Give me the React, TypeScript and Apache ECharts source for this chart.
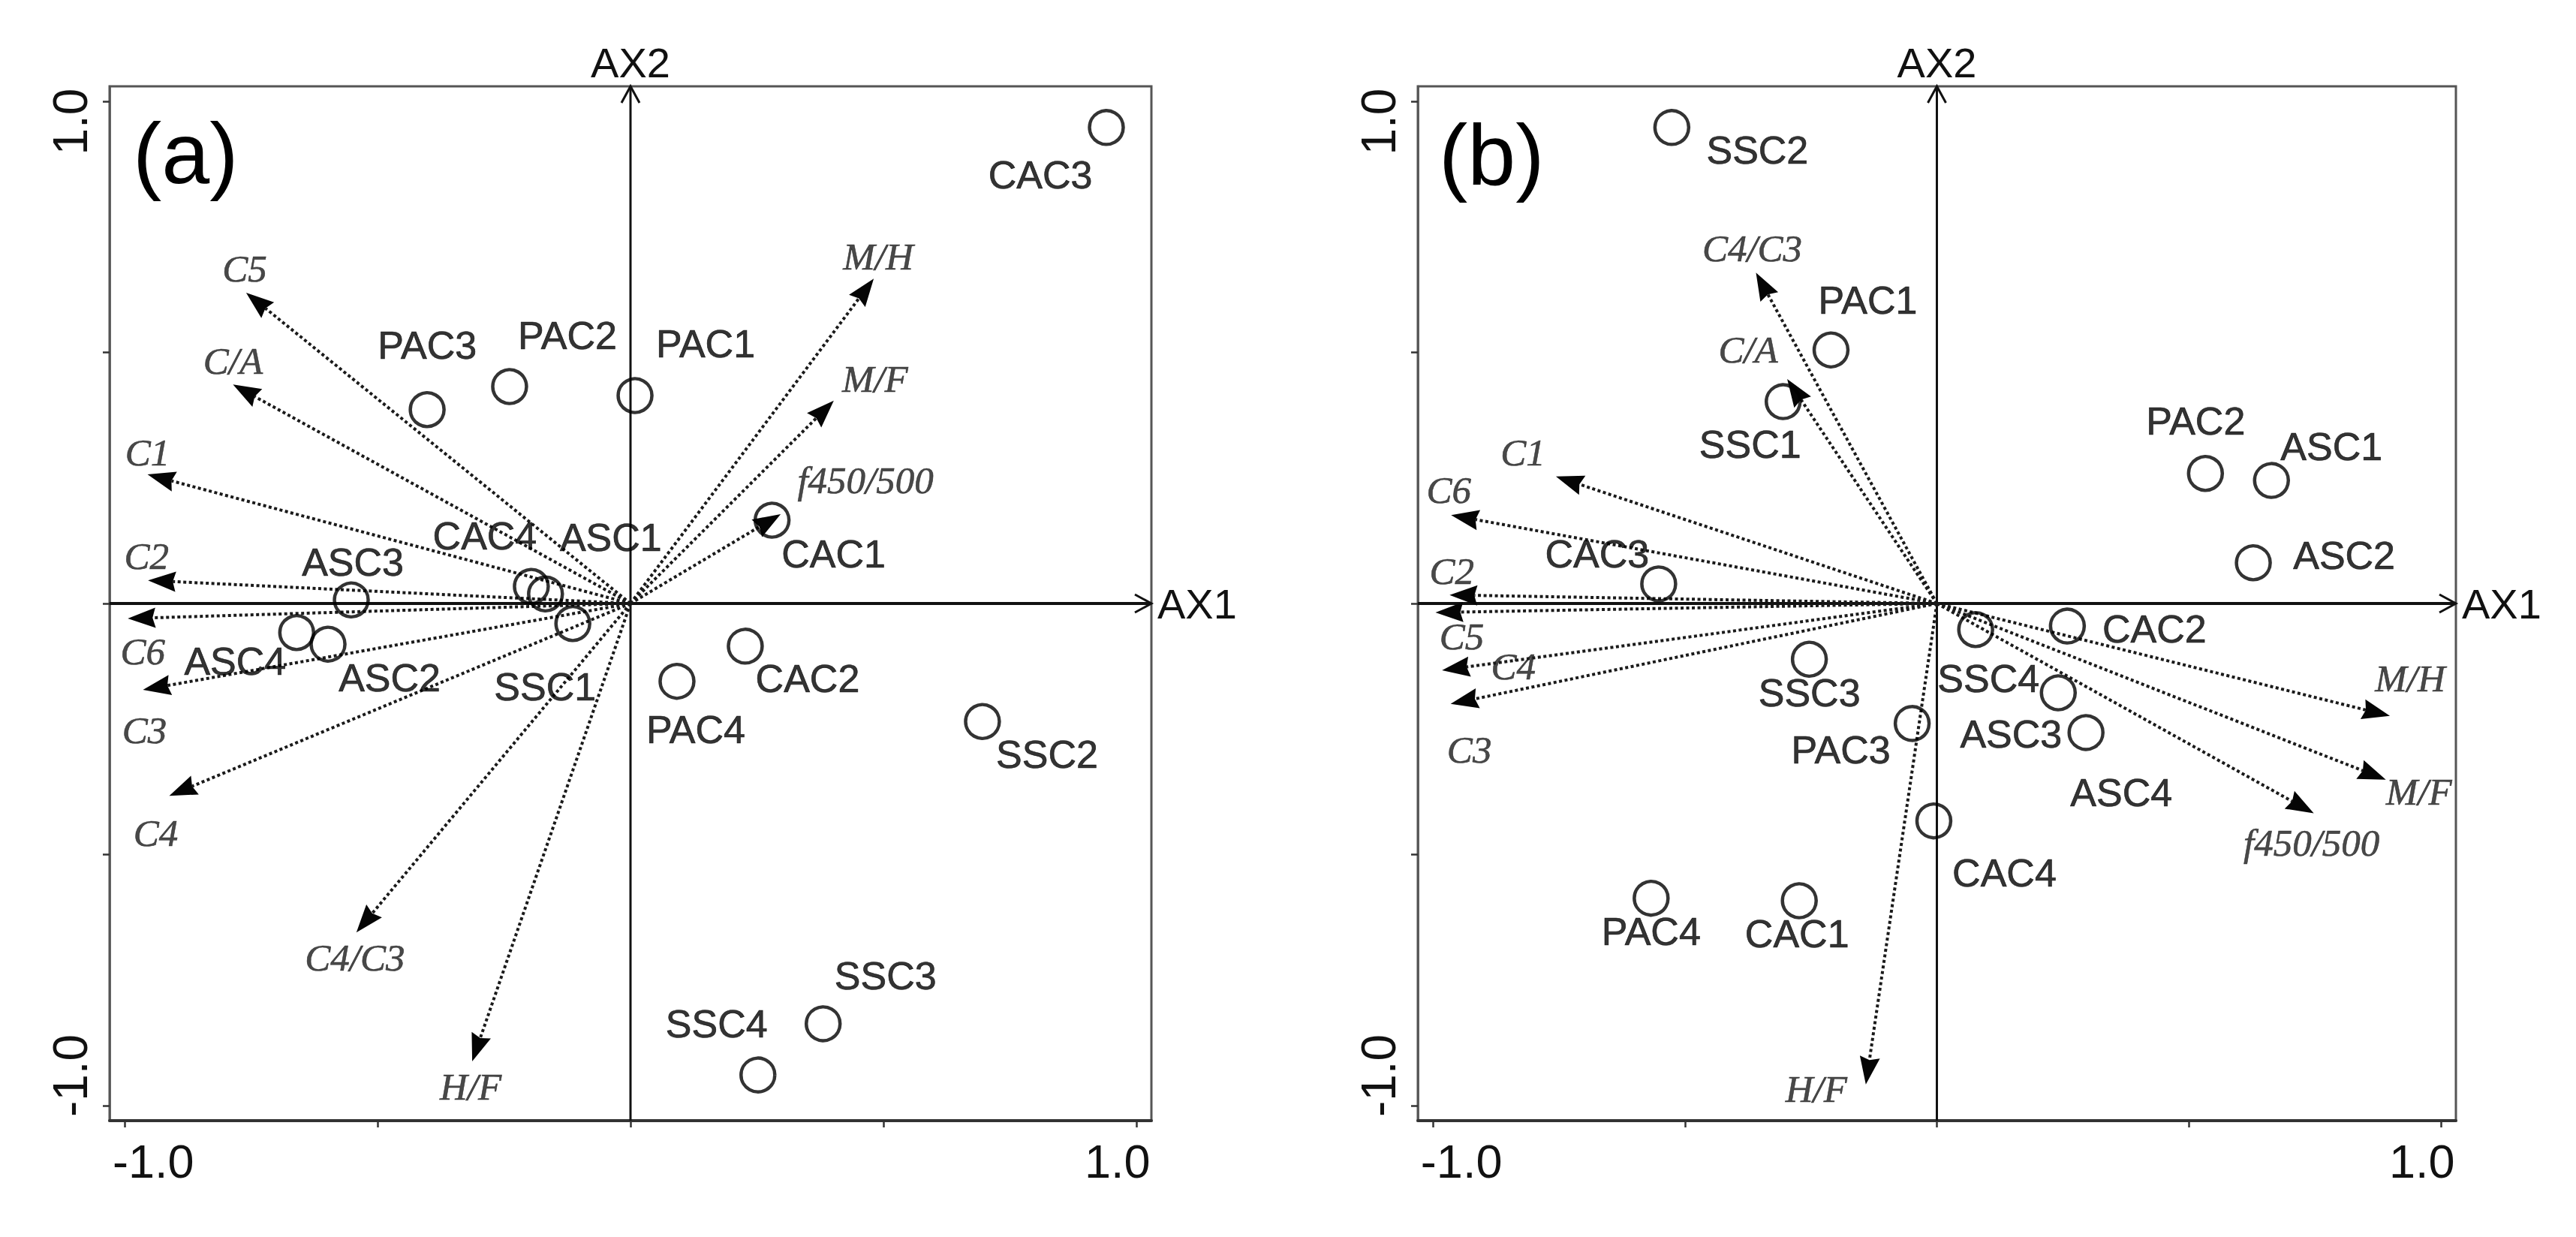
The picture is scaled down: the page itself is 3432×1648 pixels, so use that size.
import React, { useEffect, useRef } from "react";
import * as echarts from "echarts";

// ---------- data ----------
const RANGE = 1.03;
const TICKS = [-1, -0.5, 0, 0.5, 1];
const TICK_LABELS = [-1, 1];

// Panel (a): sample scores
const sampleNamesA = ["CAC3", "PAC3", "PAC2", "PAC1", "CAC4", "ASC1", "ASC3", "CAC1", "SSC1", "ASC4", "ASC2", "CAC2", "PAC4", "SSC2", "SSC3", "SSC4"];
const sampleAX1A = [0.941, -0.402, -0.239, 0.009, -0.196, -0.168, -0.552, 0.28, -0.114, -0.66, -0.598, 0.227, 0.092, 0.696, 0.381, 0.252];
const sampleAX2A = [0.948, 0.386, 0.432, 0.414, 0.034, 0.019, 0.007, 0.166, -0.04, -0.058, -0.081, -0.085, -0.155, -0.235, -0.837, -0.939];

// Panel (a): variable vectors
const varNamesA = ["C5", "C/A", "C1", "C2", "C6", "C3", "C4", "C4/C3", "H/F", "M/H", "M/F", "f450/500"];
const varAX1A = [-0.76, -0.786, -0.955, -0.954, -0.994, -0.964, -0.912, -0.542, -0.313, 0.481, 0.402, 0.297];
const varAX2A = [0.619, 0.436, 0.257, 0.046, -0.03, -0.172, -0.383, -0.655, -0.912, 0.647, 0.404, 0.178];

// Panel (b): sample scores
const sampleNamesB = ["SSC2", "PAC1", "SSC1", "PAC2", "ASC1", "ASC2", "CAC3", "CAC2", "SSC4", "SSC3", "ASC3", "ASC4", "PAC3", "CAC4", "PAC4", "CAC1"];
const sampleAX1B = [-0.526, -0.21, -0.305, 0.533, 0.664, 0.628, -0.552, 0.259, 0.077, -0.253, 0.241, 0.296, -0.049, -0.006, -0.567, -0.273];
const sampleAX2B = [0.948, 0.505, 0.402, 0.259, 0.245, 0.081, 0.039, -0.045, -0.052, -0.111, -0.178, -0.257, -0.239, -0.433, -0.587, -0.592];

// Panel (b): variable vectors
const varNamesB = ["C4/C3", "C/A", "C1", "C6", "C2", "C5", "C4", "C3", "M/H", "M/F", "f450/500", "H/F"];
const varAX1B = [-0.359, -0.297, -0.756, -0.964, -0.967, -0.995, -0.982, -0.965, 0.899, 0.891, 0.748, -0.141];
const varAX2B = [0.659, 0.447, 0.253, 0.176, 0.017, -0.018, -0.133, -0.2, -0.224, -0.351, -0.418, -0.958];

// ---------- layout (label offsets in px, relative to the mark) ----------
const sampleLabelOffsetA: Record<string, number[]> = {
  CAC3: [-88, 63], PAC3: [0, -86], PAC2: [77, -68], PAC1: [94, -69], CAC4: [-62, -67], ASC1: [87, -75],
  ASC3: [2, -50], CAC1: [82, 45], SSC1: [-37, 84], ASC4: [-82, 38], ASC2: [82, 45], CAC2: [83, 43],
  PAC4: [25, 64], SSC2: [86, 44], SSC3: [83, -64], SSC4: [-55, -68],
};
const sampleLabelOffsetB: Record<string, number[]> = {
  SSC2: [114, 30], PAC1: [49, -66], SSC1: [-44, 57], PAC2: [-13, -70], ASC1: [80, -45], ASC2: [121, -10],
  CAC3: [-82, -40], CAC2: [116, 4], SSC4: [17, 65], SSC3: [0, 45], ASC3: [-63, 55], ASC4: [47, 80],
  PAC3: [-95, 35], CAC4: [94, 69], PAC4: [0, 44], CAC1: [-3, 44],
};
const varLabelOffsetA: Record<string, number[]> = {
  "C5": [-2, -32], "C/A": [0, -31], "C1": [0, -29], "C2": [-2, -32], "C6": [20, 44], "C3": [2, 54],
  "C4": [-18, 50], "C4/C3": [-2, 34], "H/F": [-2, 34], "M/H": [6, -29], "M/F": [55, -29], "f450/500": [113, -45],
};
const varLabelOffsetB: Record<string, number[]> = {
  "C4/C3": [-5, -32], "C/A": [-52, -39], "C1": [-44, -32], "C6": [-3, -33], "C2": [3, -32], "C5": [35, 32],
  "C4": [95, -5], "C3": [25, 61], "M/H": [27, -50], "M/F": [44, 16], "f450/500": [-3, 39], "H/F": [-66, 6],
};

const SANS = "Liberation Sans, Arial, sans-serif";
const SERIF = "Liberation Serif, Times New Roman, serif";

function xAxisFor(gridIndex: number) {
  return {
    type: "value",
    gridIndex,
    min: -RANGE,
    max: RANGE,
    splitLine: { show: false },
    axisLine: { show: true, onZero: false, lineStyle: { color: "#333", width: 4 } },
    axisTick: { show: true, inside: false, length: 9, customValues: TICKS, lineStyle: { color: "#333", width: 2.5 } },
    axisLabel: {
      show: true,
      customValues: TICK_LABELS,
      margin: 22,
      formatter: (v: number) => (v < 0 ? `{l|${v.toFixed(1)}}` : `{r|${v.toFixed(1)}}`),
      rich: {
        l: { fontFamily: SANS, fontSize: 63, color: "#111", padding: [0, 0, 0, 76] },
        r: { fontFamily: SANS, fontSize: 63, color: "#111", padding: [0, 50, 0, 0] },
      },
    },
  };
}

function yAxisFor(gridIndex: number) {
  return {
    type: "value",
    gridIndex,
    min: -RANGE,
    max: RANGE,
    splitLine: { show: false },
    axisLine: { show: true, onZero: false, lineStyle: { color: "#555", width: 2.5 } },
    axisTick: { show: true, inside: false, length: 9, customValues: TICKS, lineStyle: { color: "#333", width: 2.5 } },
    axisLabel: {
      show: true,
      customValues: TICK_LABELS,
      rotate: 90,
      margin: 20,
      formatter: (v: number) => (v < 0 ? `{l|${v.toFixed(1)}}` : `{r|${v.toFixed(1)}}`),
      rich: {
        l: { fontFamily: SANS, fontSize: 64, color: "#111", padding: [0, 0, 0, 80] },
        r: { fontFamily: SANS, fontSize: 64, color: "#111", padding: [0, 54, 0, 0] },
      },
    },
  };
}

function axesSeries(idx: number) {
  return {
    type: "custom",
    xAxisIndex: idx,
    yAxisIndex: idx,
    z: 1,
    silent: true,
    clip: false,
    data: [[0, 0]],
    renderItem: (_p: any, api: any) => {
      const l = api.coord([-RANGE, 0]);
      const r = api.coord([RANGE, 0]);
      const b = api.coord([0, -RANGE]);
      const t = api.coord([0, RANGE]);
      const ah = 22;
      const aw = 12;
      return {
        type: "group",
        children: [
          { type: "line", shape: { x1: l[0], y1: l[1], x2: r[0], y2: r[1] }, style: { stroke: "#111", lineWidth: 4 } },
          { type: "polyline", shape: { points: [[r[0] - ah, r[1] - aw], [r[0], r[1]], [r[0] - ah, r[1] + aw]] }, style: { stroke: "#111", fill: null, lineWidth: 3 } },
          { type: "line", shape: { x1: b[0], y1: b[1], x2: t[0], y2: t[1] }, style: { stroke: "#111", lineWidth: 3 } },
          { type: "polyline", shape: { points: [[t[0] - aw, t[1] + ah], [t[0], t[1]], [t[0] + aw, t[1] + ah]] }, style: { stroke: "#111", fill: null, lineWidth: 3 } },
          {
            type: "text", x: r[0] + 8, y: r[1],
            style: { text: "AX1", fill: "#111", fontSize: 56, fontFamily: SANS, align: "left", verticalAlign: "middle", textAlign: "left", textVerticalAlign: "middle" },
          },
          {
            type: "text", x: t[0], y: t[1] - 4,
            style: { text: "AX2", fill: "#111", fontSize: 56, fontFamily: SANS, align: "center", verticalAlign: "bottom", textAlign: "center", textVerticalAlign: "bottom" },
          },
        ],
      };
    },
  };
}

function arrowSeries(idx: number, xs: number[], ys: number[]) {
  return {
    type: "custom",
    xAxisIndex: idx,
    yAxisIndex: idx,
    z: 2,
    silent: true,
    clip: false,
    data: xs.map((x, i) => [x, ys[i]]),
    renderItem: (_p: any, api: any) => {
      const tip = api.coord([api.value(0), api.value(1)]);
      const o = api.coord([0, 0]);
      const dx = tip[0] - o[0];
      const dy = tip[1] - o[1];
      const L = Math.hypot(dx, dy) || 1;
      const ux = dx / L;
      const uy = dy / L;
      const hl = 37;
      const hw = 13.5;
      const bx = tip[0] - ux * hl;
      const by = tip[1] - uy * hl;
      return {
        type: "group",
        children: [
          {
            type: "line",
            shape: { x1: o[0], y1: o[1], x2: bx + ux * 4, y2: by + uy * 4 },
            style: { stroke: "#1a1a1a", lineWidth: 4, lineDash: [4, 3.5] },
          },
          {
            type: "polygon",
            shape: { points: [[tip[0], tip[1]], [bx - uy * hw, by + ux * hw], [bx + ux * 4, by + uy * 4], [bx + uy * hw, by - ux * hw]] },
            style: { fill: "#050505", stroke: null },
          },
        ],
      };
    },
  };
}

function varLabelSeries(idx: number, names: string[], xs: number[], ys: number[], offs: Record<string, number[]>) {
  return {
    type: "scatter",
    xAxisIndex: idx,
    yAxisIndex: idx,
    z: 4,
    silent: true,
    symbol: "circle",
    symbolSize: 1,
    itemStyle: { color: "rgba(0,0,0,0)" },
    data: names.map((n, i) => ({ name: n, value: [xs[i], ys[i]], label: { offset: offs[n] || [0, 0] } })),
    label: {
      show: true,
      position: "inside",
      formatter: "{b}",
      fontFamily: SERIF,
      fontStyle: "italic",
      fontSize: 51,
      color: "#1a1a1a",
      textBorderColor: "#1a1a1a",
      textBorderWidth: 0.6,
    },
  };
}

function sampleSeries(idx: number, names: string[], xs: number[], ys: number[], offs: Record<string, number[]>) {
  return {
    type: "scatter",
    xAxisIndex: idx,
    yAxisIndex: idx,
    z: 3,
    silent: true,
    symbol: "circle",
    symbolSize: 45,
    itemStyle: { color: "rgba(0,0,0,0)", borderColor: "#000", borderWidth: 4.5 },
    data: names.map((n, i) => ({ name: n, value: [xs[i], ys[i]], label: { offset: offs[n] || [0, 0] } })),
    label: {
      show: true,
      position: "inside",
      formatter: "{b}",
      fontFamily: SANS,
      fontSize: 52,
      color: "#000",
      textBorderColor: "#000",
      textBorderWidth: 0.7,
    },
  };
}

const option: any = {
  animation: false,
  backgroundColor: "#fff",
  title: [
    { text: "(a)", left: 177, top: 146, padding: 0, textStyle: { fontFamily: SANS, fontSize: 115, fontWeight: "normal", color: "#000" } },
    { text: "(b)", left: 1917, top: 148, padding: 0, textStyle: { fontFamily: SANS, fontSize: 115, fontWeight: "normal", color: "#000" } },
  ],
  grid: [
    { left: 146, top: 115, width: 1388, height: 1378, show: true, borderColor: "#555", borderWidth: 3, backgroundColor: "transparent" },
    { left: 1889, top: 115, width: 1383, height: 1378, show: true, borderColor: "#555", borderWidth: 3, backgroundColor: "transparent" },
  ],
  xAxis: [xAxisFor(0), xAxisFor(1)],
  yAxis: [yAxisFor(0), yAxisFor(1)],
  series: [
    axesSeries(0),
    arrowSeries(0, varAX1A, varAX2A),
    sampleSeries(0, sampleNamesA, sampleAX1A, sampleAX2A, sampleLabelOffsetA),
    varLabelSeries(0, varNamesA, varAX1A, varAX2A, varLabelOffsetA),
    axesSeries(1),
    arrowSeries(1, varAX1B, varAX2B),
    sampleSeries(1, sampleNamesB, sampleAX1B, sampleAX2B, sampleLabelOffsetB),
    varLabelSeries(1, varNamesB, varAX1B, varAX2B, varLabelOffsetB),
  ],
};

export default function App() {
  const ref = useRef<HTMLDivElement>(null);
  useEffect(() => {
    if (!ref.current) return;
    const chart = echarts.init(ref.current, null, { renderer: "svg" });
    chart.setOption(option);
    return () => chart.dispose();
  }, []);
  return (
    <div
      ref={ref}
      style={{ position: "absolute", left: 0, top: 0, width: 3432, height: 1648, background: "#fff" }}
    />
  );
}
